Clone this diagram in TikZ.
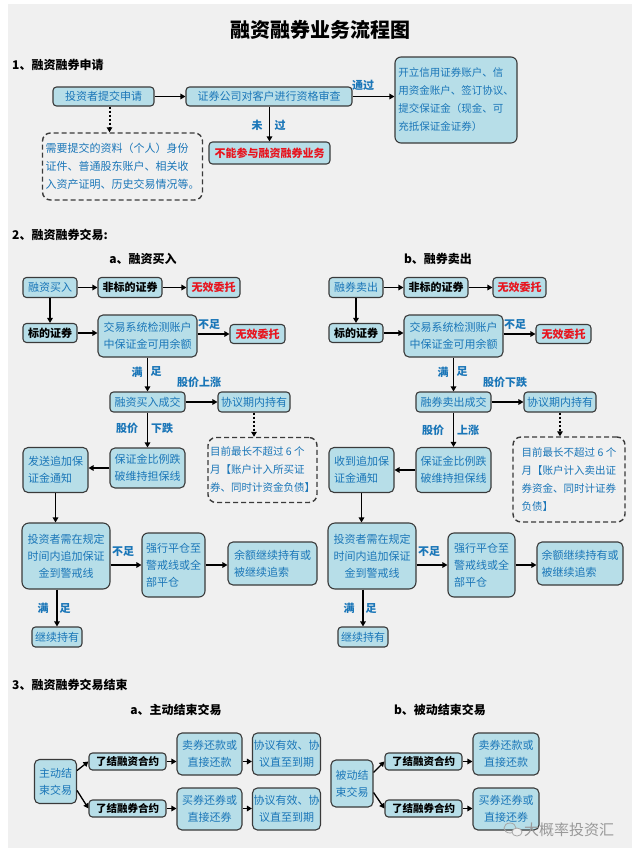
\documentclass[tikz,border=0pt]{standalone}
\usepackage{fontspec}
\setmainfont{Noto Sans CJK SC}
\usetikzlibrary{arrows.meta}
\definecolor{panel}{HTML}{F0F0F0}
\definecolor{boxfill}{HTML}{B7DEE8}
\definecolor{boxline}{HTML}{3A3A3A}
\definecolor{txtblue}{HTML}{1A76B8}
\definecolor{txtred}{HTML}{E8141E}
\tikzset{
  fbox/.style={draw=boxline, fill=boxfill, line width=1.1pt, rounded corners=3.5pt,
    text=txtblue, font=\fontsize{11}{17}\selectfont, inner sep=1pt, align=center},
  blk/.style={text=black, font=\bfseries\fontsize{11}{17}\selectfont},
  redtxt/.style={text=txtred, font=\bfseries\fontsize{11}{17}\selectfont},
  dbox/.style={draw=boxline, dash pattern=on 5pt off 3pt, line width=1.4pt, rounded corners=8pt,
    text=txtblue, font=\fontsize{10.5}{18}\selectfont, inner sep=2pt, align=left},
  arr/.style={-{Triangle[length=5pt,width=5.5pt]}, line width=1.5pt, draw=black},
  darr/.style={arr, dash pattern=on 2pt off 2pt, line width=2pt},
  lbl/.style={text=txtblue, font=\bfseries\fontsize{11}{13}\selectfont, inner sep=0pt},
  head/.style={font=\bfseries\fontsize{12}{14}\selectfont, anchor=west, inner sep=0pt},
  sub/.style={font=\bfseries\fontsize{12}{14}\selectfont, inner sep=0pt},
}
\begin{document}
\begin{tikzpicture}[x=1pt,y=-1pt]
\useasboundingbox (0,0) rectangle (640,857);
\fill[white] (0,0) rectangle (640,857);
\fill[panel] (8,4) rectangle (632,848);

% ---------- title ----------
\node[font=\bfseries\fontsize{20}{24}\selectfont] (title) at (320,30) {融资融券业务流程图};

% ---------- section 1 ----------
\node[head] (h1) at (12,65) {1、融资融券申请};
\node[fbox, minimum width=101pt, minimum height=19pt] (s1a) at (103.5,96.5) {投资者提交申请};
\node[fbox, minimum width=166pt, minimum height=19pt] (s1b) at (269,96.5) {证券公司对客户进行资格审查};
\node[fbox, align=left, font=\fontsize{10.5}{18}\selectfont, minimum width=122pt, minimum height=86pt, rounded corners=6pt] (s1c) at (456,100)
  {开立信用证券账户、信\\用资金账户、签订协议、\\提交保证金（现金、可\\充抵保证金证券）};
\node[dbox, font=\fontsize{11}{18}\selectfont, minimum width=160pt, minimum height=67pt] (s1d) at (122.5,166.5)
  {需要提交的资料（个人）身份\\证件、普通股东账户、相关收\\入资产证明、历史交易情况等。};
\node[fbox, redtxt, minimum width=121pt, minimum height=22pt] (s1e) at (269.5,153) {不能参与融资融券业务};

\draw[arr] (s1a) -- (s1b);
\draw[arr] (s1b.east) -- (s1b.east -| s1c.west);
\node[lbl] (l1a) at (363,85) {通过};
\draw[darr] ([xshift=6pt]s1a.south) -- ([xshift=6pt]s1a.south |- s1d.north);
\draw[arr] (s1b.south -| s1e.north) -- (s1e.north);
\node[lbl] (l1b) at (257,125) {未};
\node[lbl] (l1c) at (280,125) {过};

% ---------- section 2 ----------
\node[head] (h2) at (12,235) {2、融资融券交易:};
\node[sub] (h2a) at (143,259) {a、融资买入};
\node[sub] (h2b) at (438,259) {b、融券卖出};

% left flow
\node[fbox, minimum width=54pt, minimum height=20pt] (LA) at (50,287.5) {融资买入};
\node[fbox, blk, minimum width=64pt, minimum height=20pt] (LB) at (130,287.5) {非标的证券};
\node[fbox, redtxt, minimum width=53pt, minimum height=20pt] (LC) at (213.5,287.5) {无效委托};
\node[fbox, blk, minimum width=54pt, minimum height=19pt] (LD) at (50,333) {标的证券};
\node[fbox, align=left, minimum width=99pt, minimum height=42pt, rounded corners=5pt] (LE) at (147.5,336) {交易系统检测账户\\中保证金可用余额};
\node[fbox, redtxt, minimum width=55pt, minimum height=19pt] (LF) at (257.5,334) {无效委托};
\node[fbox, minimum width=75pt, minimum height=20pt] (LG) at (147.5,402) {融资买入成交};
\node[fbox, minimum width=72pt, minimum height=20pt] (LH) at (254,402) {协议期内持有};
\node[dbox, minimum width=109pt, minimum height=65pt] (LI) at (262.5,470) {目前最长不超过 6 个\\月【账户计入所买证\\券、同时计资金负债】};
\node[fbox, align=left, minimum width=75pt, minimum height=40pt, rounded corners=5pt] (LJ) at (147.5,468) {保证金比例跌\\破维持担保线};
\node[fbox, align=left, minimum width=65pt, minimum height=45pt, rounded corners=5pt] (LK) at (55.5,470) {发送追加保\\证金通知};
\node[fbox, minimum width=88pt, minimum height=66pt, rounded corners=7pt] (LL) at (66,556) {投资者需在规定\\时间内追加保证\\金到警戒线};
\node[fbox, align=left, minimum width=63pt, minimum height=64pt, rounded corners=6pt] (LM) at (173.5,565) {强行平仓至\\警戒线或全\\部平仓};
\node[fbox, align=left, minimum width=89pt, minimum height=43pt, rounded corners=5pt] (LN) at (272.5,563.5) {余额继续持有或\\被继续追索};
\node[fbox, minimum width=50pt, minimum height=20pt] (LO) at (57,637) {继续持有};

\draw[arr] (LA) -- (LB);
\draw[arr] (LB) -- (LC);
\draw[arr] (LA) -- (LD);
\draw[arr] (LD.east) -- (LD.east -| LE.west);
\draw[arr] (LE.east |- LF.west) -- (LF.west);
\node[lbl] (lLa) at (209,325) {不足};
\draw[arr] (LE) -- (LG);
\node[lbl] (lLb) at (137,372) {满};
\node[lbl] (lLc) at (156,372) {足};
\draw[arr] (LG) -- (LH);
\node[lbl] (lLd) at (199,382) {股价上涨};
\draw[darr] (LH.south) -- (LH.south |- LI.north);
\draw[arr] (LG) -- (LJ);
\node[lbl] (lLe) at (127,428) {股价};
\node[lbl] (lLf) at (162,428) {下跌};
\draw[arr] (LJ.west) -- (LJ.west -| LK.east);
\draw[arr] (LK.south) -- (LK.south |- LL.north);
\draw[arr] (LL.east |- LM.west) -- (LM.west);
\node[lbl] (lLg) at (123,552) {不足};
\draw[arr] (LM.east) -- (LM.east -| LN.west);
\draw[arr] (LO.north |- LL.south) -- (LO.north);
\node[lbl] (lLh) at (43,608) {满};
\node[lbl] (lLi) at (65,608) {足};

% right flow
\begin{scope}[xshift=306pt]
\node[fbox, minimum width=54pt, minimum height=20pt] (RA) at (50,287.5) {融券卖出};
\node[fbox, blk, minimum width=64pt, minimum height=20pt] (RB) at (130,287.5) {非标的证券};
\node[fbox, redtxt, minimum width=53pt, minimum height=20pt] (RC) at (213.5,287.5) {无效委托};
\node[fbox, blk, minimum width=54pt, minimum height=19pt] (RD) at (50,333) {标的证券};
\node[fbox, align=left, minimum width=99pt, minimum height=42pt, rounded corners=5pt] (RE) at (147.5,336) {交易系统检测账户\\中保证金可用余额};
\node[fbox, redtxt, minimum width=55pt, minimum height=19pt] (RF) at (257.5,334) {无效委托};
\node[fbox, minimum width=75pt, minimum height=20pt] (RG) at (147.5,402) {融券卖出成交};
\node[fbox, minimum width=72pt, minimum height=20pt] (RH) at (254,402) {协议期内持有};
\node[dbox, minimum width=112pt, minimum height=85pt] (RI) at (263,479.5) {目前最长不超过 6 个\\月【账户计入卖出证\\券资金、同时计证券\\负债】};
\node[fbox, align=left, minimum width=75pt, minimum height=45pt, rounded corners=5pt] (RJ) at (147.5,470) {保证金比例跌\\破维持担保线};
\node[fbox, align=left, minimum width=65pt, minimum height=45pt, rounded corners=5pt] (RK) at (55.5,470) {收到追加保\\证金通知};
\node[fbox, minimum width=88pt, minimum height=66pt, rounded corners=7pt] (RL) at (66,556) {投资者需在规定\\时间内追加保证\\金到警戒线};
\node[fbox, align=left, minimum width=67pt, minimum height=64pt, rounded corners=6pt] (RM) at (175.5,565) {强行平仓至\\警戒线或全\\部平仓};
\node[fbox, align=left, minimum width=86pt, minimum height=43pt, rounded corners=5pt] (RN) at (274,563.5) {余额继续持有或\\被继续追索};
\node[fbox, minimum width=50pt, minimum height=20pt] (RO) at (57,637) {继续持有};

\draw[arr] (RA) -- (RB);
\draw[arr] (RB) -- (RC);
\draw[arr] (RA) -- (RD);
\draw[arr] (RD.east) -- (RD.east -| RE.west);
\draw[arr] (RE.east |- RF.west) -- (RF.west);
\node[lbl] (lRa) at (209,325) {不足};
\draw[arr] (RE) -- (RG);
\node[lbl] (lRb) at (137,372) {满};
\node[lbl] (lRc) at (156,372) {足};
\draw[arr] (RG) -- (RH);
\node[lbl] (lRd) at (199,382) {股价下跌};
\draw[darr] (RH.south) -- (RH.south |- RI.north);
\draw[arr] (RG) -- (RJ);
\node[lbl] (lRe) at (127,430) {股价};
\node[lbl] (lRf) at (162,430) {上涨};
\draw[arr] (RJ.west) -- (RJ.west -| RK.east);
\draw[arr] (RK.south) -- (RK.south |- RL.north);
\draw[arr] (RL.east |- RM.west) -- (RM.west);
\node[lbl] (lRg) at (123,552) {不足};
\draw[arr] (RM.east) -- (RM.east -| RN.west);
\draw[arr] (RO.north |- RL.south) -- (RO.north);
\node[lbl] (lRh) at (43,608) {满};
\node[lbl] (lRi) at (65,608) {足};
\end{scope}

% ---------- section 3 ----------
\node[head] (h3) at (12,685) {3、融资融券交易结束};
\node[sub] (h3a) at (176,710) {a、主动结束交易};
\node[sub] (h3b) at (440,710) {b、被动结束交易};

\begin{scope}[every node/.append style={font=\fontsize{10.5}{19}\selectfont}]
\node[fbox, minimum width=42pt, minimum height=44pt, rounded corners=5pt] (PA) at (55.5,781.5) {主动结\\束交易};
\node[fbox, blk, font=\bfseries\fontsize{10.5}{13}\selectfont, minimum width=77pt, minimum height=17pt] (PB) at (127.5,761.5) {了结融资合约};
\node[fbox, blk, font=\bfseries\fontsize{10.5}{13}\selectfont, minimum width=77pt, minimum height=17pt] (PC) at (127.5,808.5) {了结融券合约};
\node[fbox, minimum width=65pt, minimum height=42pt, rounded corners=5pt] (PD) at (209.5,754) {卖券还款或\\直接还款};
\node[fbox, minimum width=67pt, minimum height=42pt, rounded corners=5pt] (PE) at (286.5,754) {协议有效、协\\议直至到期};
\node[fbox, minimum width=65pt, minimum height=42pt, rounded corners=5pt] (PF) at (209.5,809) {买券还券或\\直接还券};
\node[fbox, minimum width=67pt, minimum height=42pt, rounded corners=5pt] (PG) at (286.5,809) {协议有效、协\\议直至到期};

\node[fbox, minimum width=42pt, minimum height=47pt, rounded corners=5pt] (QA) at (352,783.5) {被动结\\束交易};
\node[fbox, blk, font=\bfseries\fontsize{10.5}{13}\selectfont, minimum width=77pt, minimum height=17pt] (QB) at (423.5,761.5) {了结融资合约};
\node[fbox, blk, font=\bfseries\fontsize{10.5}{13}\selectfont, minimum width=77pt, minimum height=17pt] (QC) at (423.5,808.5) {了结融券合约};
\node[fbox, minimum width=66pt, minimum height=42pt, rounded corners=5pt] (QD) at (506,754) {卖券还款或\\直接还款};
\node[fbox, minimum width=66pt, minimum height=42pt, rounded corners=5pt] (QF) at (506,809) {买券还券或\\直接还券};
\end{scope}

\draw[arr, line width=1.3pt] ([yshift=11pt]PA.east) -- (PB.west);
\draw[arr, line width=1.3pt] ([yshift=-9pt]PA.east) -- (PC.west);
\draw[arr, line width=1.3pt] (PB.east) -- (PB.east -| PD.west);
\draw[arr, line width=1.3pt] (PC.east) -- (PC.east -| PF.west);
\draw[arr, line width=1.3pt] (PD.east |- PB.east) -- (PD.east |- PB.east -| PE.west);
\draw[arr, line width=1.3pt] (PF.east |- PC.east) -- (PF.east |- PC.east -| PG.west);
\draw[arr, line width=1.3pt] ([yshift=11pt]QA.east) -- (QB.west);
\draw[arr, line width=1.3pt] ([yshift=-9pt]QA.east) -- (QC.west);
\draw[arr, line width=1.3pt] (QB.east) -- (QB.east -| QD.west);
\draw[arr, line width=1.3pt] (QC.east) -- (QC.east -| QF.west);

% watermark
\draw[gray!70, line width=0.8pt] (510,828) ellipse (6pt and 5pt);
\draw[gray!70, line width=0.8pt, fill=panel] (517,832) ellipse (5pt and 4pt);
\node[text=gray!80, font=\fontsize{15}{17}\selectfont, anchor=west, inner sep=0pt] (wm) at (524,830) {大概率投资汇};
\end{tikzpicture}
\end{document}
